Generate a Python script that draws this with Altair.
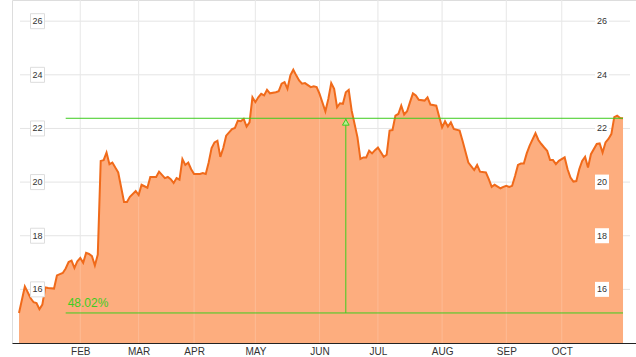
import altair as alt
import pandas as pd

# trading-day index (0 = first session in January) and closing price
day_index = [0, 2, 4, 5, 6, 7, 8, 9, 10, 12, 13, 15, 16, 17, 18, 19, 20, 21, 22, 23,
             24, 25, 26, 27, 28, 29, 30, 31, 32, 33, 34, 36, 37, 38, 40, 41, 42, 44, 45, 47,
             48, 50, 51, 52, 53, 54, 55, 56, 57, 58, 59, 60, 62, 63, 64, 65, 66, 67, 68, 69,
             70, 71, 73, 74, 75, 76, 77, 78, 79, 80, 81, 82, 83, 84, 85, 86, 88, 89, 90, 91,
             92, 93, 94, 95, 96, 97, 98, 100, 101, 102, 103, 105, 106, 107, 108, 109, 110, 111, 112, 113,
             114, 116, 117, 118, 119, 120, 121, 122, 123, 125, 126, 127, 128, 129, 130, 131, 132, 133, 134, 135,
             136, 137, 139, 140, 141, 143, 144, 145, 146, 147, 148, 149, 151, 152, 154, 156, 157, 158, 160, 161,
             162, 163, 165, 166, 167, 168, 169, 170, 171, 172, 173, 174, 175, 177, 178, 179, 180, 181, 182, 183,
             184, 185, 187, 188, 189, 190, 191, 192, 193, 194, 195, 196, 198, 199, 200, 201, 202, 203, 204, 205,
             206, 207]
close = [15.12, 16.11, 15.67, 15.52, 15.49, 15.26, 15.43, 16.07, 16.05, 16.03, 16.52, 16.61, 16.78, 17.02, 17.07, 16.80, 17.05, 17.17, 16.99, 17.36,
         17.32, 17.24, 16.89, 17.30, 20.79, 20.82, 21.10, 20.67, 20.73, 20.54, 20.36, 19.26, 19.26, 19.45, 19.67, 19.52, 19.90, 19.79, 20.19, 20.19,
         20.39, 20.15, 20.19, 20.11, 19.97, 20.15, 20.09, 20.86, 20.64, 20.73, 20.48, 20.30, 20.30, 20.34, 20.30, 20.73, 21.27, 21.48, 21.54, 20.94,
         21.27, 21.73, 21.98, 22.02, 22.29, 22.27, 22.36, 22.07, 22.23, 23.16, 22.98, 23.16, 23.29, 23.23, 23.44, 23.31, 23.35, 23.39, 23.67, 23.73,
         23.48, 23.98, 24.19, 23.98, 23.79, 23.67, 23.69, 23.54, 23.57, 23.54, 23.29, 22.64, 23.10, 23.69, 23.48, 22.79, 22.94, 22.92, 23.35, 23.44,
         22.67, 21.67, 20.86, 20.92, 20.92, 21.17, 21.07, 21.19, 21.29, 20.94, 21.02, 21.92, 21.94, 22.48, 22.54, 22.85, 22.52, 22.64, 22.98, 23.31,
         23.23, 23.07, 23.04, 23.16, 22.89, 22.85, 22.44, 22.04, 22.27, 22.07, 22.23, 21.98, 21.92, 21.54, 20.73, 20.45, 20.64, 20.39, 20.36, 20.11,
         19.82, 19.90, 19.77, 19.82, 19.86, 19.82, 19.86, 20.23, 20.64, 20.69, 20.69, 21.07, 21.36, 21.82, 21.57, 21.42, 21.29, 21.17, 20.82, 20.82,
         20.67, 20.79, 20.92, 20.48, 20.17, 20.02, 20.04, 20.48, 20.79, 20.94, 20.54, 21.04, 21.42, 21.44, 21.10, 21.48, 21.61, 21.79, 22.42, 22.48,
         22.39, 22.38]
assert len(day_index) == len(close)

month_labels = ["FEB", "MAR", "APR", "MAY", "JUN", "JUL", "AUG", "SEP", "OCT"]
month_start_index = [21, 41, 60, 81, 103, 123, 145, 167, 186]
y_ticks = [16, 18, 20, 22, 24, 26]

start_price = 15.12
end_price = 22.38
change_label = "48.02%"
band_start_index = 16
last_index = 207
marker_index = 112
y_floor = 14

GREEN = "#3ECC1F"
GRID = "#e4e4e4"

df = pd.DataFrame({"i": day_index, "v": close})
months = pd.DataFrame({"i": month_start_index, "m": month_labels})
ticks = pd.DataFrame({"v": y_ticks})
levels = pd.DataFrame({"v": [start_price, end_price],
                       "i": [band_start_index] * 2, "i1": [last_index] * 2})
marker = pd.DataFrame({"i": [marker_index], "lo": [start_price], "hi": [end_price]})
label = pd.DataFrame({"i": [band_start_index], "v": [start_price], "t": [change_label]})

xs = alt.Scale(domain=[-2.4, 211.45], nice=False, zero=False)
ys = alt.Scale(domain=[14, 26.79], nice=False, zero=False)

label_expr = ""
for idx, m in zip(month_start_index, month_labels):
    label_expr += f"datum.value == {idx} ? '{m}' : "
label_expr += "''"

x_axis = alt.Axis(values=month_start_index, labelExpr=label_expr, grid=False, ticks=False,
                  domainColor="#222222", domainWidth=1, labelFont="Liberation Sans",
                  labelFontSize=10, labelColor="#333333", labelPadding=3, title=None,
                  labelFlush=False, labelOverlap=False)


def X(field="i"):
    return alt.X(f"{field}:Q", scale=xs, axis=x_axis)


def Y(field="v"):
    return alt.Y(f"{field}:Q", scale=ys, axis=None)


vgrid = alt.Chart(months).mark_rule(color=GRID, strokeWidth=1).encode(x=X())

hgrid = alt.Chart(ticks).mark_rule(color=GRID, strokeWidth=1).encode(
    y=Y(), x=alt.value(8), x2=alt.value(618))

area = alt.Chart(df).mark_area(color="#FDAD7E", opacity=1).encode(
    x=X(), y=Y(), y2=alt.datum(y_floor))

vgrid_over = alt.Chart(months).mark_rule(color="#ffffff", opacity=0.18, strokeWidth=1).encode(x=X())

line = alt.Chart(df).mark_line(color="#F06A1A", strokeWidth=2).encode(x=X(), y=Y())

hlines = alt.Chart(levels).mark_rule(color=GREEN, strokeWidth=1).encode(
    x=X(), x2="i1:Q", y=Y())

vline = alt.Chart(marker).mark_rule(color=GREEN, strokeWidth=1).encode(
    x=X(), y=Y("lo"), y2="hi:Q")

arrow = alt.Chart(marker).mark_point(shape="triangle-up", size=45, filled=True,
                                     fill="#b9ee93", stroke=GREEN, strokeWidth=1, opacity=1).encode(
    x=X(), y=Y("hi"), yOffset=alt.value(4))

pct = alt.Chart(label).mark_text(color=GREEN, font="Liberation Sans", fontSize=12,
                                 align="left", baseline="alphabetic", dx=2, dy=-6).encode(
    x=X(), y=Y(), text="t:N")

boxes_base = alt.Chart(ticks).transform_calculate(
    top="datum.v + 0.28", bot="datum.v - 0.28")
box_left = boxes_base.mark_rect(fill="#ffffff", stroke="#dddddd", strokeWidth=1).encode(
    y=Y("top"), y2="bot:Q", x=alt.value(18.5), x2=alt.value(32.5))
box_right = boxes_base.mark_rect(fill="#ffffff", strokeWidth=0).encode(
    y=Y("top"), y2="bot:Q", x=alt.value(583), x2=alt.value(597))

txt_left = alt.Chart(ticks).mark_text(font="Liberation Sans", fontSize=9, color="#333333",
                                      align="center", baseline="middle").encode(
    y=Y(), x=alt.value(25.5), text=alt.Text("v:Q", format="d"))
txt_right = alt.Chart(ticks).mark_text(font="Liberation Sans", fontSize=9, color="#333333",
                                       align="center", baseline="middle").encode(
    y=Y(), x=alt.value(590), text=alt.Text("v:Q", format="d"))

chart = alt.layer(
    vgrid, hgrid, area, vgrid_over, line, hlines, vline, arrow, pct,
    box_left, box_right, txt_left, txt_right
).properties(
    width=624, height=343,
    autosize=alt.AutoSizeParams(type="none"),
    padding={"left": 12, "top": 0, "right": 0, "bottom": 14},
).configure_view(stroke=None).configure(background="#ffffff")

chart.save("out.html", embed_options={"renderer": "svg", "actions": False})
